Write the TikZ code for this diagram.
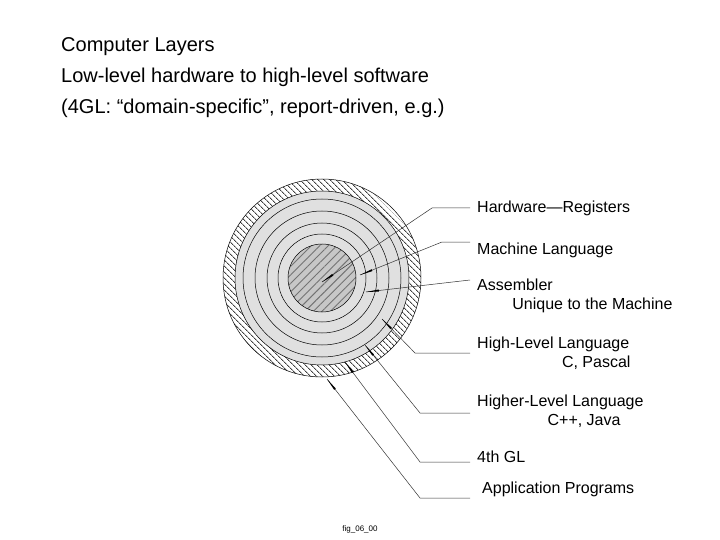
\documentclass[tikz,border=0pt]{standalone}
\usepackage{fontspec}
\setmainfont{Liberation Sans}
\usetikzlibrary{patterns.meta,arrows.meta,calc}
\begin{document}
\begin{tikzpicture}[x=1pt,y=-1pt,
  ring/.style={draw=black,line width=0.5pt},
  lab/.style={anchor=west,font=\fontsize{16}{19}\selectfont,inner sep=0pt},
  ptr/.style={draw=black!80,line width=0.5pt}]
\useasboundingbox (0,0) rectangle (720,540);
\node[anchor=north west,align=left,font=\fontsize{20}{31}\selectfont,inner sep=0pt] (title) at (61,37)
 {Computer Layers\\Low-level hardware to high-level software\\(4GL: “domain-specific”, report-driven, e.g.)};
\coordinate (c) at (322,278);
\fill[white] (c) circle (99);
\fill[pattern={Lines[angle=-45,distance=4pt,line width=1pt]},pattern color=black!75] (c) circle (99);
\draw[ring] (c) circle (99);
\filldraw[ring,fill=black!12] (c) circle (87);
\foreach \r in {79,67,55,44} \draw[ring] (c) circle (\r);
\fill[black!22] (c) circle (34);
\fill[pattern={Lines[angle=45,distance=6pt,line width=0.9pt]},pattern color=black!55] (c) circle (34);
\draw[ring] (c) circle (34);
\node[lab] (l1) at (477,208) {Hardware—Registers};
\node[lab] (l2) at (477,250) {Machine Language};
\node[lab,align=left,anchor=north west] (l3) at (477,279) {Assembler\\\hspace{2.2em}Unique to the Machine};
\node[lab,align=left,anchor=north west] (l4) at (477,337) {High-Level Language\\\hspace{5.3em}C, Pascal};
\node[lab,align=left,anchor=north west] (l5) at (477,395) {Higher-Level Language\\\hspace{4.4em}C++, Java};
\node[lab] (l6) at (477,457) {4th GL};
\node[lab] (l7) at (482,489) {Application Programs};
\node[font=\fontsize{8}{9}\selectfont] (fig) at (360,529) {fig\_06\_00};
\coordinate (t1) at (322,282); \coordinate (t2) at (360,275); \coordinate (t3) at (366,292);
\coordinate (t4) at (382,319); \coordinate (t5) at (365,345); \coordinate (t6) at (345,362);
\coordinate (t7) at (327,379);
\foreach \a/\b/\t in {{(470,208) -- (432,208)}/{(432,208)}/t1,{(470,242) -- (442,242)}/{(442,242)}/t2,{(470,280)}/{(470,280)}/t3,{(470,353) -- (415,353)}/{(415,353)}/t4,{(470,413) -- (420,413)}/{(420,413)}/t5,{(470,462) -- (420,462)}/{(420,462)}/t6,{(470,498) -- (420,498)}/{(420,498)}/t7}{
  \draw[ptr] \a -- (\t);
  \fill[black] (\t) -- ($(\t)!13pt!4.5:\b$) -- ($(\t)!13pt!-4.5:\b$) -- cycle;
}
\end{tikzpicture}
\end{document}
